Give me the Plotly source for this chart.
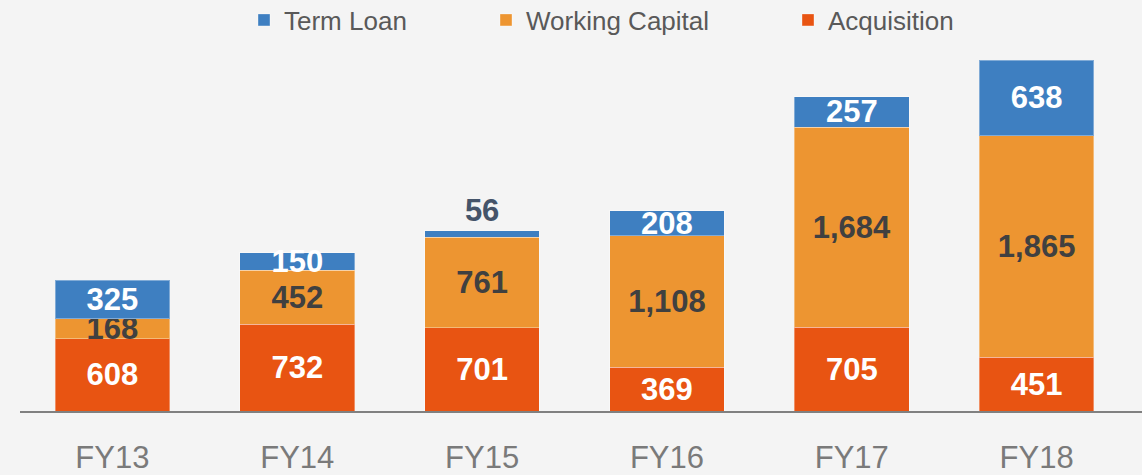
import plotly.graph_objects as go

categories = ["FY13", "FY14", "FY15", "FY16", "FY17", "FY18"]
acquisition = [608, 732, 701, 369, 705, 451]
working_capital = [168, 452, 761, 1108, 1684, 1865]
term_loan = [325, 150, 56, 208, 257, 638]

C_ACQ = "#E85412"
C_WC = "#ED9531"
C_TL = "#3E7FC1"
FONT = "Liberation Sans, Arial, sans-serif"

def fmt(vals):
    return [f"{v:,}" for v in vals]

fig = go.Figure()

fig.add_trace(go.Bar(
    x=categories, y=acquisition, name="Acquisition", legend="legend3",
    marker=dict(color=C_ACQ, line=dict(color="rgba(255,255,255,0.35)", width=1)),
    text=fmt(acquisition), textposition="inside", textangle=0,
    insidetextanchor="middle", constraintext="none",
    textfont=dict(family=FONT, size=31, color="white", weight="bold"),
))
fig.add_trace(go.Bar(
    x=categories, y=working_capital, name="Working Capital", legend="legend2",
    marker=dict(color=C_WC, line=dict(color="rgba(255,255,255,0.35)", width=1)),
    text=fmt(working_capital), textposition="inside", textangle=0,
    insidetextanchor="middle", constraintext="none",
    textfont=dict(family=FONT, size=31, color="#404040", weight="bold"),
))
tl_pos = ["outside" if v < 100 else "inside" for v in term_loan]
tl_col = ["#44546A" if v < 100 else "white" for v in term_loan]
fig.add_trace(go.Bar(
    x=categories, y=term_loan, name="Term Loan", legend="legend",
    marker=dict(color=C_TL, line=dict(color="rgba(255,255,255,0.35)", width=1)),
    text=fmt(term_loan), textposition=tl_pos, textangle=0,
    insidetextanchor="middle", constraintext="none", cliponaxis=False,
    textfont=dict(family=FONT, size=31, color=tl_col, weight="bold"),
))

legend_common = dict(
    orientation="h", xref="container", yref="container", yanchor="middle",
    y=1 - 20 / 475, bgcolor="rgba(0,0,0,0)",
    font=dict(family=FONT, size=26, color="#595959"),
)
fig.update_layout(
    barmode="stack",
    bargap=0.38,
    showlegend=True,
    width=1142, height=475,
    margin=dict(l=20, r=0, t=45, b=64, autoexpand=False),
    paper_bgcolor="#F4F4F4",
    plot_bgcolor="#F4F4F4",
    legend=dict(**legend_common, x=244 / 1142),
    legend2=dict(**legend_common, x=486 / 1142),
    legend3=dict(**legend_common, x=788 / 1142),
    xaxis=dict(
        range=[-0.5, 5.57], showgrid=False, showline=True, linecolor="#808080",
        linewidth=2, ticks="", zeroline=False, automargin=False,
        tickfont=dict(family=FONT, size=31, color="#7A7A7A"),
        ticklabelstandoff=18,
    ),
    yaxis=dict(range=[0, 3081], visible=False, showgrid=False, zeroline=False),
)

fig.write_html(
    "out.html",
    config={"displayModeBar": False},
    post_script="document.body.style.margin='0';document.body.style.background='#F4F4F4';",
)
